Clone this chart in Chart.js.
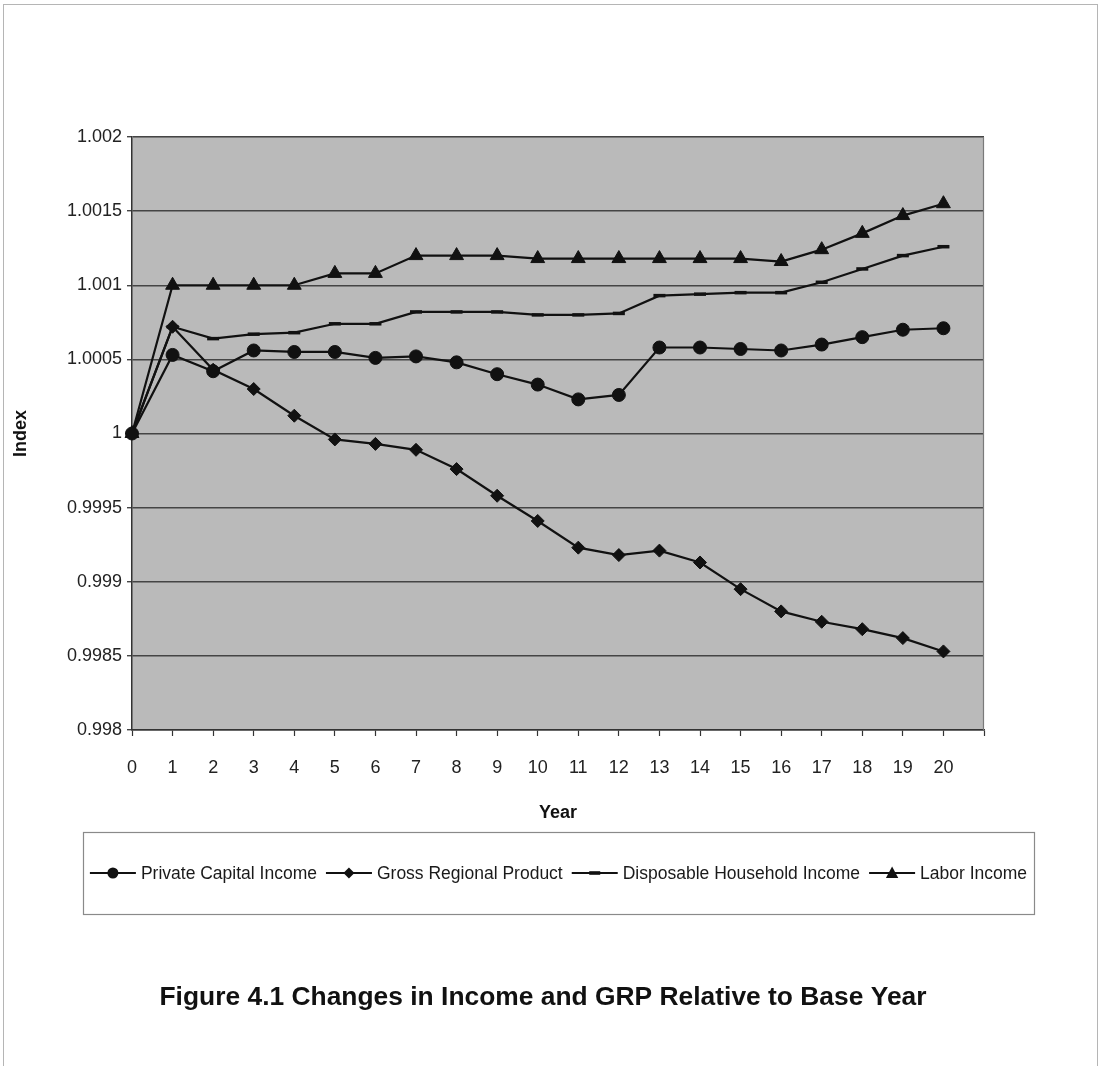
<!DOCTYPE html>
<html>
<head>
<meta charset="utf-8">
<title>Changes in Income and GRP Relative to Base Year</title>
<script src="https://cdn.jsdelivr.net/npm/chart.js@4.4.1/dist/chart.umd.min.js"></script>
<style>
  html, body { margin: 0; padding: 0; background: #ffffff; }
  #wrap { position: relative; width: 1100px; height: 1066px; }
  canvas { display: block; }
</style>
</head>
<body>
<div id="wrap"><canvas id="chart" width="1100" height="1066"></canvas></div>
<script>
// Simulation years (index 0 is the base year)
const years = [0, 1, 2, 3, 4, 5, 6, 7, 8, 9, 10, 11, 12, 13, 14, 15, 16, 17, 18, 19, 20];

// Index values relative to the base year
const privateCapitalIncome = [1, 1.00053, 1.00042, 1.00056, 1.00055, 1.00055, 1.00051, 1.00052, 1.00048, 1.00040, 1.00033,
  1.00023, 1.00026, 1.00058, 1.00058, 1.00057, 1.00056, 1.00060, 1.00065, 1.00070, 1.00071];
const grossRegionalProduct = [1, 1.00072, 1.00043, 1.00030, 1.00012, 0.99996, 0.99993, 0.99989, 0.99976, 0.99958, 0.99941,
  0.99923, 0.99918, 0.99921, 0.99913, 0.99895, 0.99880, 0.99873, 0.99868, 0.99862, 0.99853];
const disposableHouseholdIncome = [1, 1.00072, 1.00064, 1.00067, 1.00068, 1.00074, 1.00074, 1.00082, 1.00082, 1.00082, 1.00080,
  1.00080, 1.00081, 1.00093, 1.00094, 1.00095, 1.00095, 1.00102, 1.00111, 1.00120, 1.00126];
const laborIncome = [1, 1.0010, 1.0010, 1.0010, 1.0010, 1.00108, 1.00108, 1.0012, 1.0012, 1.0012, 1.00118,
  1.00118, 1.00118, 1.00118, 1.00118, 1.00118, 1.00116, 1.00124, 1.00135, 1.00147, 1.00155];

const seriesNames = ['Private Capital Income', 'Gross Regional Product', 'Disposable Household Income', 'Labor Income'];
const yTicks = [0.998, 0.9985, 0.999, 0.9995, 1, 1.0005, 1.001, 1.0015, 1.002];

const figureTitle = 'Figure 4.1 Changes in Income and GRP Relative to Base Year';

const FONT = '"Liberation Sans", Arial, Helvetica, sans-serif';
const INK = '#111111';

function toPoints(values) {
  return values.map((v, i) => ({ x: years[i], y: v }));
}

const markerSpec = [
  { style: 'circle', radius: 6.5, border: 1 },
  { style: 'rectRot', radius: 6.5, border: 1 },
  { style: 'line', radius: 6, border: 3.5 },
  { style: 'triangle', radius: 8, border: 1 }
];
const seriesValues = [privateCapitalIncome, grossRegionalProduct, disposableHouseholdIncome, laborIncome];

const datasets = seriesValues.map((vals, i) => ({
  label: seriesNames[i],
  data: toPoints(vals),
  borderColor: INK,
  backgroundColor: INK,
  borderWidth: 2.2,
  pointStyle: markerSpec[i].style,
  pointRadius: markerSpec[i].radius,
  pointBorderWidth: markerSpec[i].border,
  pointBackgroundColor: INK,
  pointBorderColor: INK,
  tension: 0,
  clip: false
}));

// Grey plot area behind gridlines, plus its outer frame
const plotBackground = {
  id: 'plotBackground',
  beforeDraw(chart) {
    const { ctx, chartArea: a } = chart;
    ctx.save();
    ctx.fillStyle = '#bababa';
    ctx.fillRect(a.left, a.top, a.right - a.left, a.bottom - a.top);
    ctx.restore();
  },
  beforeDatasetsDraw(chart) {
    const { ctx, chartArea: a } = chart;
    ctx.save();
    ctx.strokeStyle = '#7a7a7a';
    ctx.lineWidth = 1.2;
    ctx.beginPath();
    ctx.moveTo(a.left, a.top + 0.5);
    ctx.lineTo(a.right - 0.5, a.top + 0.5);
    ctx.lineTo(a.right - 0.5, a.bottom);
    ctx.stroke();
    ctx.restore();
  }
};

function drawMarker(ctx, style, x, y, r) {
  ctx.beginPath();
  if (style === 'circle') {
    ctx.arc(x, y, r, 0, Math.PI * 2);
    ctx.fill();
  } else if (style === 'rectRot') {
    ctx.moveTo(x, y - r);
    ctx.lineTo(x + r, y);
    ctx.lineTo(x, y + r);
    ctx.lineTo(x - r, y);
    ctx.closePath();
    ctx.fill();
  } else if (style === 'triangle') {
    ctx.moveTo(x, y - r);
    ctx.lineTo(x + r * 0.95, y + r * 0.75);
    ctx.lineTo(x - r * 0.95, y + r * 0.75);
    ctx.closePath();
    ctx.fill();
  } else {
    ctx.fillRect(x - r, y - 1.8, r * 2, 3.6);
  }
}

// Boxed legend with line-and-marker samples, and the figure caption beneath it
const legendAndCaption = {
  id: 'legendAndCaption',
  afterDraw(chart) {
    const ctx = chart.ctx;
    ctx.save();

    // outer page frame
    ctx.strokeStyle = '#b5b5b5';
    ctx.lineWidth = 1;
    ctx.strokeRect(3.5, 4.5, 1094, 1080);

    // legend box
    const box = { x: 83, y: 832, w: 951, h: 82 };
    ctx.fillStyle = '#ffffff';
    ctx.fillRect(box.x, box.y, box.w, box.h);
    ctx.strokeStyle = '#8a8a8a';
    ctx.lineWidth = 1.2;
    ctx.strokeRect(box.x + 0.5, box.y + 0.5, box.w, box.h);

    ctx.font = '17.5px ' + FONT;
    ctx.textBaseline = 'middle';
    ctx.textAlign = 'left';
    const sampleLen = 46, textGap = 5, itemGap = 9;
    const widths = chart.data.datasets.map(d => ctx.measureText(d.label).width);
    const total = widths.reduce((s, w) => s + sampleLen + textGap + w, 0) + itemGap * (widths.length - 1);
    let x = box.x + box.w / 2 - total / 2;
    const cy = box.y + box.h / 2;
    chart.data.datasets.forEach((d, i) => {
      ctx.strokeStyle = INK;
      ctx.fillStyle = INK;
      ctx.lineWidth = 2;
      ctx.beginPath();
      ctx.moveTo(x, cy);
      ctx.lineTo(x + sampleLen, cy);
      ctx.stroke();
      const ms = markerSpec[i];
      drawMarker(ctx, ms.style, x + sampleLen / 2, cy, ms.style === 'triangle' ? 6.5 : 5.5);
      ctx.fillStyle = '#1a1a1a';
      ctx.fillText(d.label, x + sampleLen + textGap, cy + 1);
      x += sampleLen + textGap + widths[i] + itemGap;
    });

    // caption
    ctx.font = 'bold 26px ' + FONT;
    ctx.fillStyle = '#111111';
    ctx.textAlign = 'left';
    ctx.textBaseline = 'middle';
    const targetW = 767;
    const tw = ctx.measureText(figureTitle).width;
    const sx = targetW / tw;
    ctx.translate(543 - targetW / 2, 998);
    ctx.scale(sx, 1);
    ctx.fillText(figureTitle, 0, 0);
    ctx.restore();
  }
};

Chart.defaults.font.family = FONT;
Chart.defaults.color = '#222222';

new Chart(document.getElementById('chart'), {
  type: 'line',
  data: { datasets },
  options: {
    responsive: false,
    devicePixelRatio: 1,
    animation: false,
    layout: { padding: { left: 0, right: 116, top: 137, bottom: 236 } },
    plugins: {
      legend: { display: false },
      title: { display: false },
      tooltip: { enabled: false }
    },
    scales: {
      x: {
        type: 'linear',
        min: 0,
        max: 21,
        afterFit(scale) { scale.height = 100; },
        afterBuildTicks(scale) {
          scale.ticks = years.concat([21]).map(v => ({ value: v }));
        },
        ticks: {
          autoSkip: false,
          maxRotation: 0,
          padding: 21,
          font: { size: 18 },
          color: '#222222',
          callback: (v) => (years.includes(v) ? String(v) : '')
        },
        grid: {
          drawOnChartArea: false,
          drawTicks: true,
          tickLength: 6,
          tickWidth: 1.2,
          color: '#333333'
        },
        border: { display: true, color: '#333333', width: 1.5 },
        title: {
          display: true,
          text: 'Year',
          font: { size: 18, weight: 'bold' },
          color: '#111111',
          padding: { top: 0, bottom: 6 }
        }
      },
      y: {
        min: 0.998,
        max: 1.002,
        afterFit(scale) { scale.width = 132; },
        afterBuildTicks(scale) {
          scale.ticks = yTicks.map(v => ({ value: v }));
        },
        ticks: {
          padding: 5,
          font: { size: 18 },
          color: '#222222',
          callback: (v) => String(Number(v.toFixed(4)))
        },
        grid: {
          drawOnChartArea: true,
          drawTicks: true,
          tickLength: 5,
          color: '#454545',
          lineWidth: 1.4
        },
        border: { display: true, color: '#333333', width: 1.5 },
        title: {
          display: true,
          text: 'Index',
          font: { size: 18, weight: 'bold' },
          color: '#111111',
          padding: { top: 10, bottom: 0 }
        }
      }
    }
  },
  plugins: [plotBackground, legendAndCaption]
});
</script>
</body>
</html>
